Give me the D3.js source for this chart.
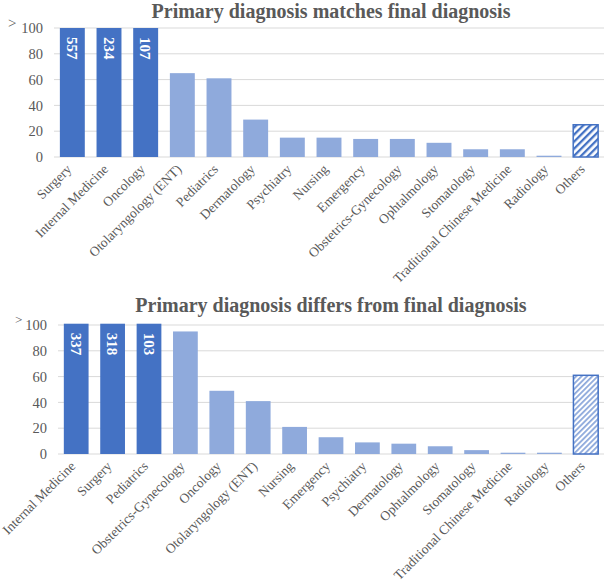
<!DOCTYPE html>
<html>
<head>
<meta charset="utf-8">
<script src="https://cdn.jsdelivr.net/npm/d3@7"></script>
<style>
  body { margin: 0; background: #fff; }
  svg { display: block; }
</style>
</head>
<body>
<div id="chart"></div>
<script>
// Chart data
const topCategories = ["Surgery", "Internal Medicine", "Oncology", "Otolaryngology (ENT)", "Pediatrics",
  "Dermatology", "Psychiatry", "Nursing", "Emergency", "Obstetrics-Gynecology", "Ophtalmology",
  "Stomatology", "Traditional Chinese Medicine", "Radiology", "Others"];
const topValues = [557, 234, 107, 65, 61, 29, 15, 15, 14, 14, 11, 6, 6, 1, 25];

const bottomCategories = ["Internal Medicine", "Surgery", "Pediatrics", "Obstetrics-Gynecology", "Oncology",
  "Otolaryngology (ENT)", "Nursing", "Emergency", "Psychiatry", "Dermatology", "Ophtalmology",
  "Stomatology", "Traditional Chinese Medicine", "Radiology", "Others"];
const bottomValues = [337, 318, 103, 95, 49, 41, 21, 13, 9, 8, 6, 3, 1, 1, 61];

const yTicks = [0, 20, 40, 60, 80, 100];

const dark = "#4472C4", light = "#8FAADC", textGray = "#595959", gridGray = "#D9D9D9";
const serif = "'Liberation Serif', 'Times New Roman', serif";

var svg = d3.select("#chart")
  .append("svg")
  .attr("width", 604)
  .attr("height", 580)
  .style("font-family", serif);

var defs = svg.append("defs");

// hatch patterns for the "Others" bars
function addHatch(id, color, size, lineWidth) {
  var p = defs.append("pattern")
    .attr("id", id)
    .attr("patternUnits", "userSpaceOnUse")
    .attr("width", size)
    .attr("height", size)
    .attr("patternTransform", "rotate(45)");
  p.append("rect").attr("width", size).attr("height", size).attr("fill", "#fff");
  p.append("rect").attr("width", lineWidth).attr("height", size).attr("fill", color);
}
addHatch("hatchTop", dark, 5, 2.3);
addHatch("hatchBottom", light, 3.8, 1.8);

function drawChart(cfg) {
  var g = svg.append("g");

  var x = d3.scaleBand()
    .domain(cfg.categories)
    .range([cfg.left, cfg.right])
    .paddingInner(0.32)
    .paddingOuter(0.16);

  var y = d3.scaleLinear().domain([0, 100]).range([cfg.bottom, cfg.top]);

  // title
  g.append("text")
    .attr("x", 331)
    .attr("y", cfg.titleY)
    .attr("text-anchor", "middle")
    .attr("fill", textGray)
    .style("font-size", "20px")
    .style("font-weight", "bold")
    .text(cfg.title);

  // gridlines
  g.selectAll(".grid")
    .data(yTicks)
    .enter().append("line")
    .attr("x1", cfg.left).attr("x2", 604)
    .attr("y1", d => y(d)).attr("y2", d => y(d))
    .attr("stroke", gridGray)
    .attr("stroke-width", 1);

  // y axis labels
  var yAxis = g.append("g")
    .attr("transform", "translate(" + (cfg.left - 11) + ",0)")
    .call(d3.axisLeft(y).tickValues(yTicks).tickSize(0).tickPadding(0));
  yAxis.attr("font-family", null).attr("font-size", null);
  yAxis.select(".domain").remove();
  yAxis.selectAll("text")
    .attr("fill", textGray)
    .style("font-size", "14.5px")
    .style("font-family", serif);

  // ">" marker above the top tick
  g.append("text")
    .attr("x", cfg.gtX)
    .attr("y", cfg.gtY)
    .attr("fill", textGray)
    .style("font-size", cfg.gtSize + "px")
    .text(">");

  // bars
  var n = cfg.values.length;
  g.selectAll(".bar")
    .data(cfg.values)
    .enter().append("rect")
    .attr("x", (d, i) => x(cfg.categories[i]))
    .attr("width", x.bandwidth())
    .attr("y", d => y(Math.min(d, cfg.cap)))
    .attr("height", d => y(0) - y(Math.min(d, cfg.cap)))
    .attr("fill", (d, i) => i == n - 1 ? "url(#" + cfg.hatch + ")" : (d > 100 ? dark : light))
    .attr("stroke", (d, i) => i == n - 1 ? dark : "none")
    .attr("stroke-width", 1.5);

  // value labels for the bars that go past the axis
  g.selectAll(".val")
    .data(cfg.values.map((d, i) => ({v: d, c: cfg.categories[i]})).filter(d => d.v > 100))
    .enter().append("text")
    .attr("transform", d => "translate(" + (x(d.c) + x.bandwidth() / 2) + "," + (y(cfg.cap) + 9) + ") rotate(90)")
    .attr("dy", "0.35em")
    .attr("fill", "#fff")
    .style("font-size", "15px")
    .style("font-weight", "bold")
    .text(d => d.v);

  // category labels
  g.selectAll(".cat")
    .data(cfg.categories)
    .enter().append("text")
    .attr("transform", d => "translate(" + (x(d) + x.bandwidth() / 2) + "," + (cfg.bottom + 13) + ") rotate(-45)")
    .attr("text-anchor", "end")
    .attr("fill", textGray)
    .style("font-size", "13.5px")
    .text(d => d);
}

drawChart({
  title: "Primary diagnosis matches final diagnosis",
  categories: topCategories, values: topValues,
  left: 54, right: 604, top: 28, bottom: 157, titleY: 18, cap: 100,
  gtX: 8, gtY: 27.5, gtSize: 15, hatch: "hatchTop"
});

drawChart({
  title: "Primary diagnosis differs from final diagnosis",
  categories: bottomCategories, values: bottomValues,
  left: 58, right: 604, top: 325, bottom: 454, titleY: 312, cap: 101,
  gtX: 15, gtY: 324, gtSize: 13, hatch: "hatchBottom"
});
</script>
</body>
</html>
